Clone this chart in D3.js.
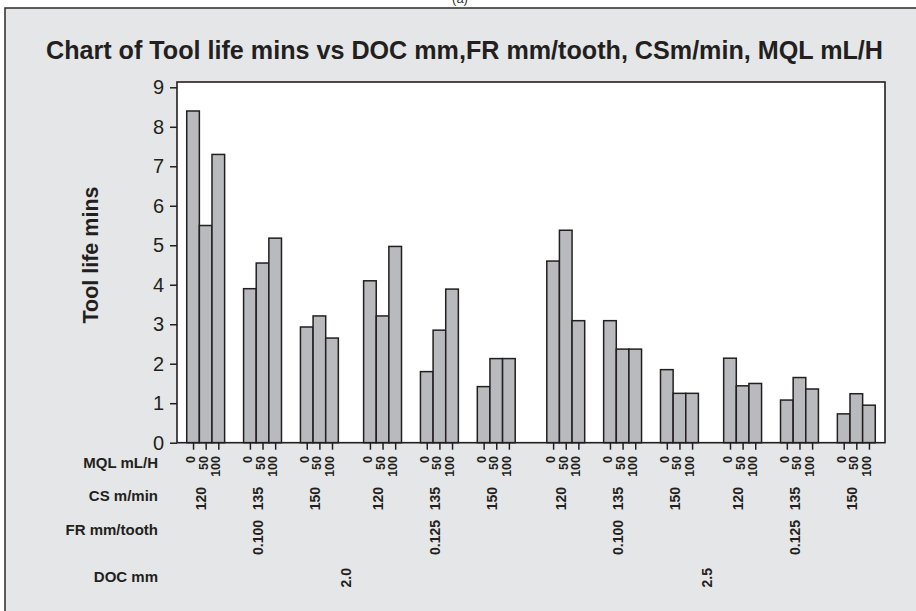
<!DOCTYPE html>
<html>
<head>
<meta charset="utf-8">
<script src="https://cdn.jsdelivr.net/npm/d3@7/dist/d3.min.js"></script>
<style>
  html, body { margin: 0; padding: 0; background: #ffffff; }
  svg { display: block; font-family: "Liberation Sans", Arial, Helvetica, sans-serif; }
</style>
</head>
<body>
<svg id="chart" width="916" height="611"></svg>
<script>
// ---- data ----
const docLevels = ["2.0", "2.5"];
const frLevels = ["0.100", "0.125"];
const csLevels = ["120", "135", "150"];
const mqlLevels = ["0", "50", "100"];
const toolLife = [
  8.4, 5.5, 7.3,    3.9, 4.55, 5.18,   2.93, 3.21, 2.65,
  4.1, 3.21, 4.97,  1.8, 2.85, 3.89,   1.42, 2.13, 2.13,
  4.6, 5.38, 3.09,  3.09, 2.37, 2.37,  1.85, 1.25, 1.25,
  2.14, 1.44, 1.5,  1.08, 1.65, 1.36,  0.73, 1.24, 0.95
];
const yTicks = [0, 1, 2, 3, 4, 5, 6, 7, 8, 9];
const title = "Chart of Tool life mins vs DOC mm,FR mm/tooth, CSm/min, MQL mL/H";
const yTitle = "Tool life mins";
const rowTitles = ["MQL mL/H", "CS m/min", "FR mm/tooth", "DOC mm"];

// ---- build rows ----
const rows = [];
let k = 0;
docLevels.forEach((doc, di) => frLevels.forEach((fr, fi) => csLevels.forEach((cs, ci) =>
  mqlLevels.forEach((mql, mi) => {
    rows.push({ id: "b" + k, doc, fr, cs, mql, di, fi, ci, mi, value: toolLife[k] });
    k++;
  }))));

// slot layout (gaps between groups in bar-width units)
let pos = 0;
rows.forEach((r, i) => {
  if (i > 0) {
    const p = rows[i - 1];
    if (p.di !== r.di) pos += 2.5;
    else if (p.fi !== r.fi) pos += 2.0;
    else if (p.ci !== r.ci) pos += 1.5;
  }
  r.start = pos;
  pos += 1;
});
const total = pos;

const svg = d3.select("#chart");
const W = 916, H = 611;
const plot = { left: 177, right: 885, top: 82, bottom: 442.7 };

// background panel
svg.append("rect").attr("x", 5).attr("y", 8).attr("width", W + 10).attr("height", H + 10)
  .attr("fill", "#e5e6e7").attr("stroke", "#2a2a2a").attr("stroke-width", 1.5);

svg.append("text").attr("x", 460).attr("y", 3).attr("text-anchor", "middle")
  .attr("font-size", 13).attr("fill", "#333").text("(a)");

// scales
const x = d3.scaleLinear().domain([-0.77, total + 0.77]).range([plot.left, plot.right]);
const y = d3.scaleLinear().domain([0, 9]).range([plot.bottom, 87.3]);
const bw = x(1) - x(0);

// plot area
svg.append("rect").attr("x", plot.left).attr("y", plot.top)
  .attr("width", plot.right - plot.left).attr("height", plot.bottom - plot.top)
  .attr("fill", "#ffffff");

// bars
svg.append("g").selectAll("rect").data(rows).join("rect")
  .attr("x", d => x(d.start))
  .attr("y", d => y(d.value))
  .attr("width", bw)
  .attr("height", d => y(0) - y(d.value))
  .attr("fill", "#b9babd")
  .attr("stroke", "#231f20")
  .attr("stroke-width", 1.5);

// frame
svg.append("rect").attr("x", plot.left).attr("y", plot.top)
  .attr("width", plot.right - plot.left).attr("height", plot.bottom - plot.top)
  .attr("fill", "none").attr("stroke", "#231f20").attr("stroke-width", 1.6);

// y axis
const yAxis = svg.append("g").attr("transform", `translate(${plot.left},0)`)
  .call(d3.axisLeft(y).tickValues(yTicks).tickFormat(d3.format("d")).tickSize(7).tickPadding(6));
yAxis.select(".domain").remove();
yAxis.selectAll(".tick line").attr("stroke", "#231f20").attr("stroke-width", 1.5);
yAxis.selectAll(".tick text").attr("font-size", 20).attr("fill", "#231f20")
  .attr("font-family", "Liberation Sans, Arial, sans-serif");

// y title
svg.append("text").attr("transform", `translate(98,255) rotate(-90)`)
  .attr("text-anchor", "middle").attr("font-size", 21.5).attr("font-weight", "bold")
  .attr("fill", "#231f20").text(yTitle);

// x axis (MQL ticks)
const center = d => x(d.start + 0.5);
const xBand = d3.scaleOrdinal().domain(rows.map(d => d.id)).range(rows.map(center));
const xAxis = svg.append("g").attr("transform", `translate(0,${plot.bottom})`)
  .call(d3.axisBottom(xBand).tickSize(7).tickFormat(id => rows.find(r => r.id === id).mql));
xAxis.select(".domain").remove();
xAxis.selectAll(".tick line").attr("stroke", "#231f20").attr("stroke-width", 1.5);
xAxis.selectAll(".tick text")
  .attr("transform", "rotate(-90)")
  .attr("x", -(456 - plot.bottom)).attr("y", 1.5).attr("dy", 0)
  .attr("text-anchor", "end")
  .attr("font-size", 12.5).attr("font-weight", "bold").attr("fill", "#231f20")
  .attr("font-family", "Liberation Sans, Arial, sans-serif");

// hierarchical labels
function groupCenters(keyFn, labelFn) {
  const g = d3.groups(rows, keyFn);
  return g.map(([key, arr]) => ({
    label: labelFn(arr[0]),
    cx: (center(arr[0]) + center(arr[arr.length - 1])) / 2
  }));
}
const levels = [
  { data: groupCenters(d => d.di + "-" + d.fi + "-" + d.ci, d => d.cs), top: 487 },
  { data: groupCenters(d => d.di + "-" + d.fi, d => d.fr), top: 520 },
  { data: groupCenters(d => d.di, d => d.doc), top: 568 }
];
levels.forEach(lv => {
  svg.append("g").selectAll("text").data(lv.data).join("text")
    .attr("transform", d => `translate(${d.cx + 0.5},${lv.top}) rotate(-90)`)
    .attr("text-anchor", "end")
    .attr("font-size", 14).attr("font-weight", "bold").attr("fill", "#231f20")
    .text(d => d.label);
});

// row titles
const rowBaselines = [467.7, 501, 535, 581.7];
svg.append("g").selectAll("text").data(rowTitles).join("text")
  .attr("x", 158).attr("y", (d, i) => rowBaselines[i])
  .attr("text-anchor", "end").attr("font-size", 15).attr("font-weight", "bold")
  .attr("fill", "#231f20").text(d => d);

// title
svg.append("text").attr("x", 46).attr("y", 59.3)
  .attr("font-size", 25).attr("font-weight", "bold").attr("fill", "#231f20")
  .attr("textLength", 837).attr("lengthAdjust", "spacingAndGlyphs")
  .text(title);
</script>
</body>
</html>
